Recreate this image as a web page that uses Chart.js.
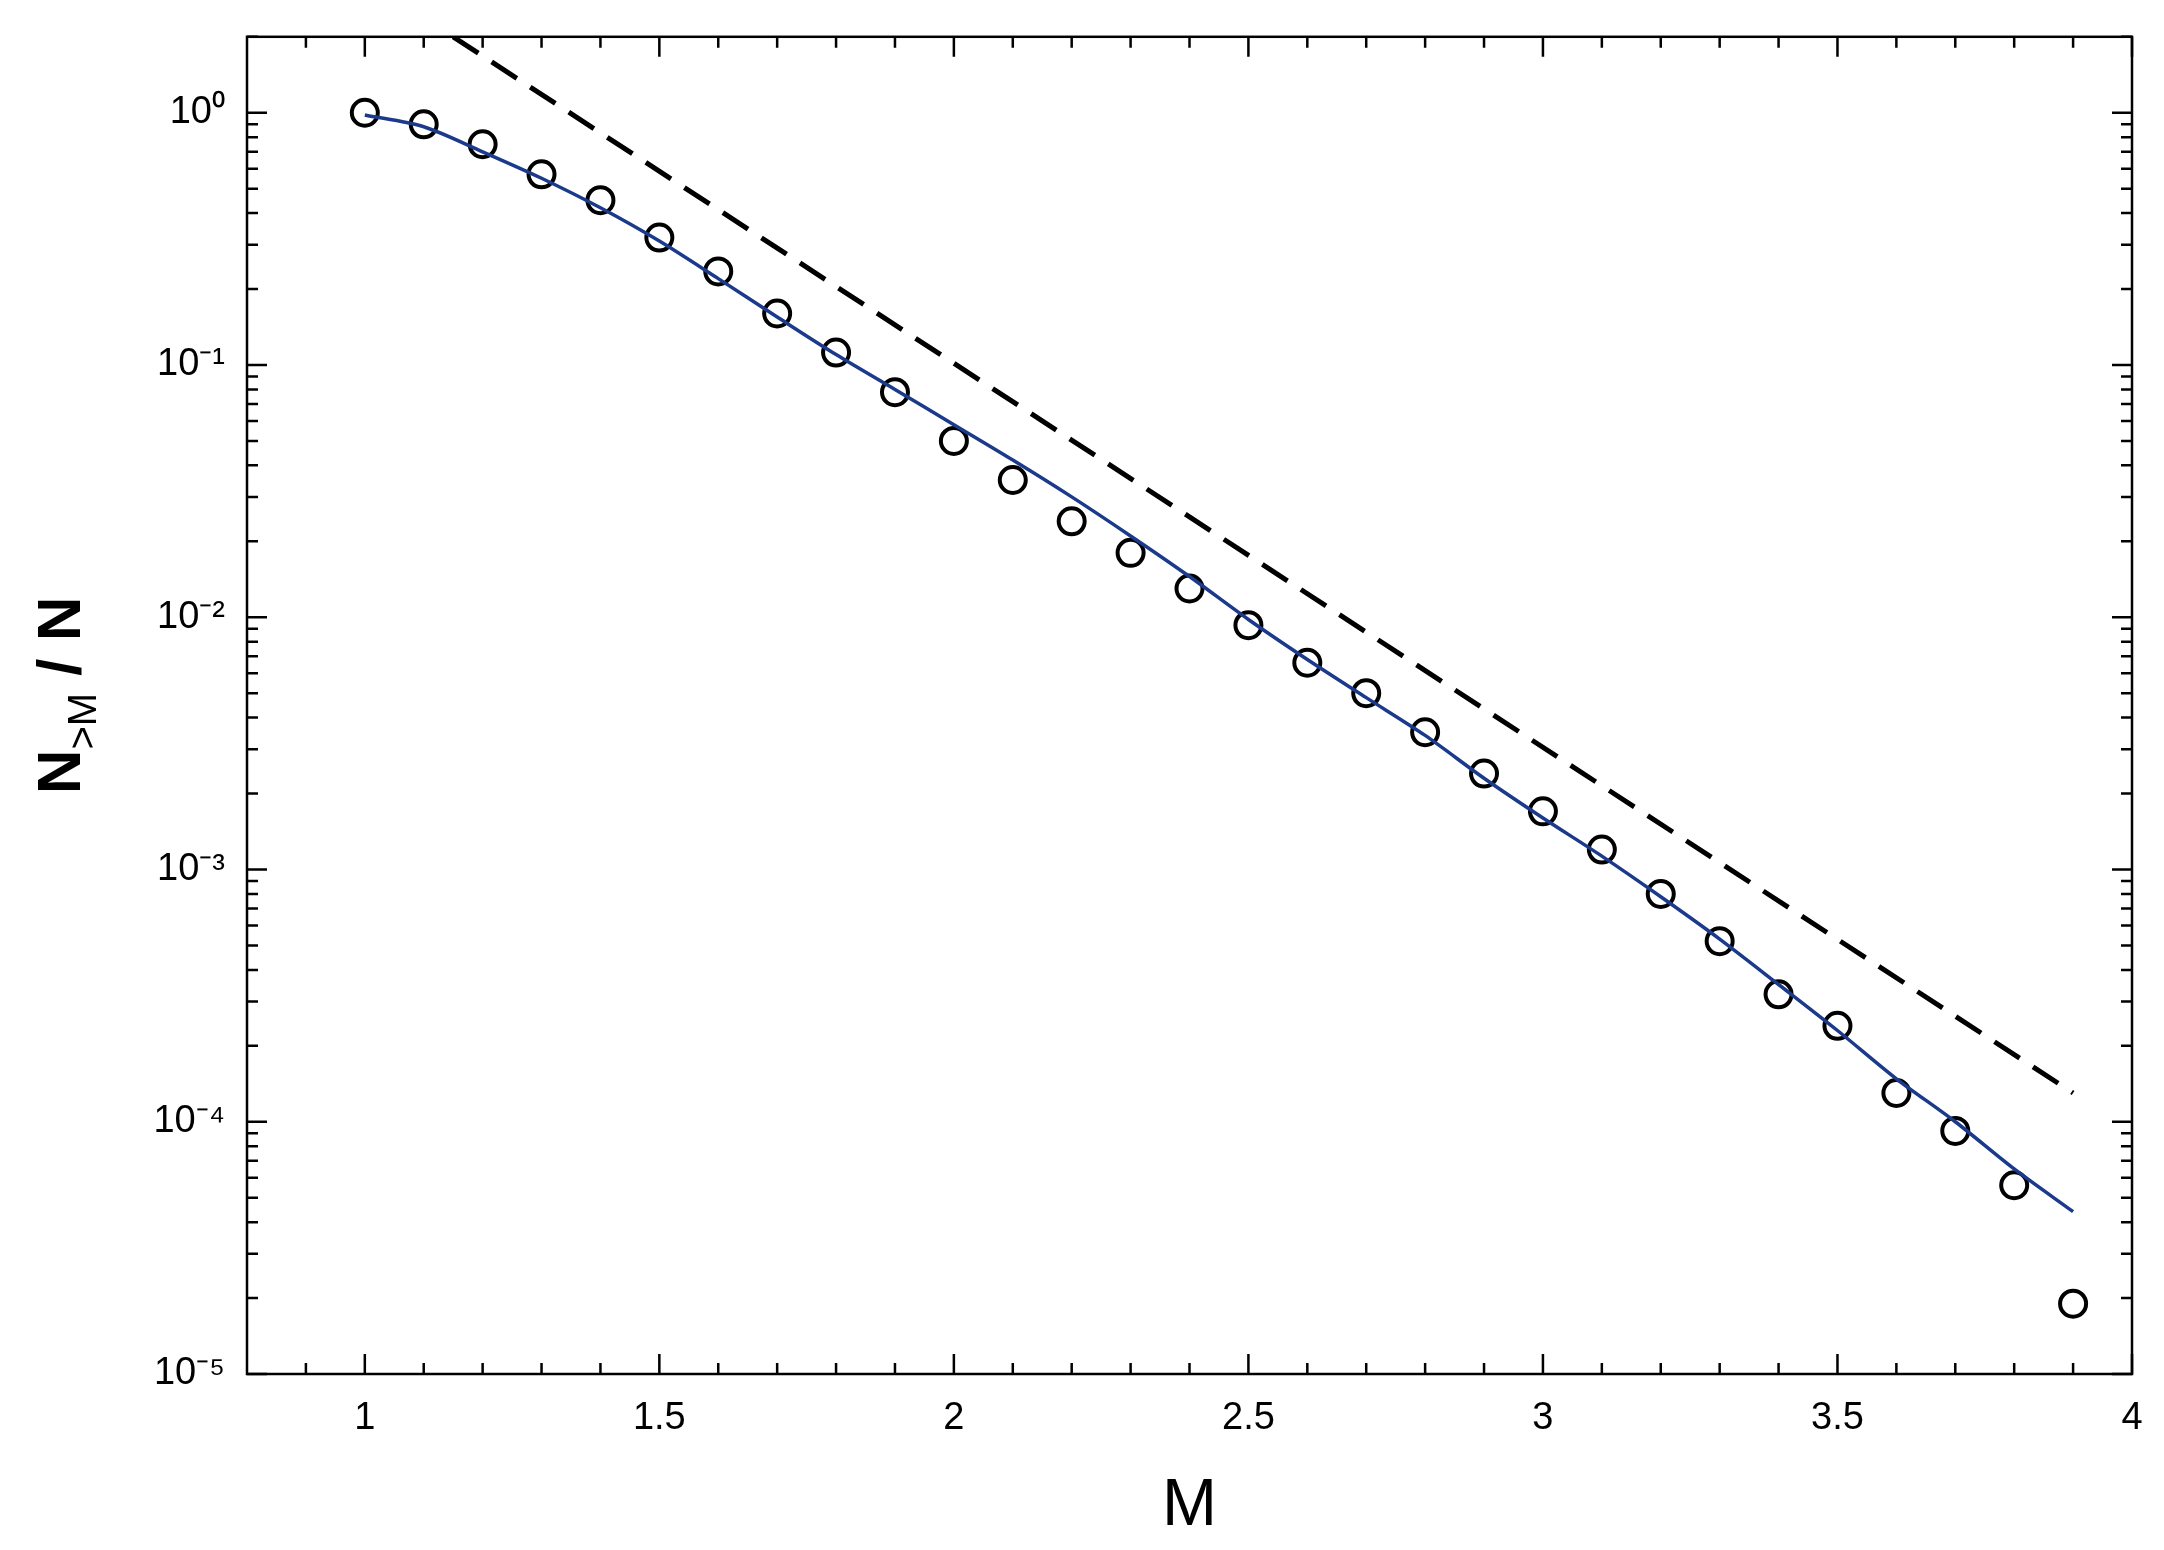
<!DOCTYPE html>
<html><head><meta charset="utf-8">
<script src="https://cdn.jsdelivr.net/npm/chart.js@4/dist/chart.umd.min.js"></script>
<style>html,body{margin:0;background:#fff}#wrap{width:2164px;height:1550px}</style>
</head><body><div id="wrap"><canvas id="c"></canvas></div>
<script>
/* ===== Data ===== */
const obsM   = [1.0,1.1,1.2,1.3,1.4,1.5,1.6,1.7,1.8,1.9,2.0,2.1,2.2,2.3,2.4,2.5,2.6,2.7,2.8,2.9,3.0,3.1,3.2,3.3,3.4,3.5,3.6,3.7,3.8,3.9];
const obsN   = [1.0,0.9,0.75,0.57,0.45,0.32,0.235,0.16,0.112,0.078,0.05,0.035,0.024,0.018,0.013,0.0093,0.0066,0.005,0.0035,0.0024,0.0017,0.0012,0.0008,0.00052,0.00032,0.00024,0.00013,0.000092,0.000056,0.000019];
const fitN   = [0.98,0.88,0.7,0.55,0.42,0.31,0.22,0.155,0.11,0.08,0.058,0.042,0.03,0.021,0.0145,0.0098,0.0068,0.0048,0.0034,0.0023,0.0016,0.00113,0.00078,0.00053,0.00035,0.00023,0.000148,0.0001,0.000065,0.000044];
const dashM  = [1.15,3.9];
const dashN  = [2.0,0.00013];
const xTicks = [1,1.5,2,2.5,3,3.5,4];
const supers = {'0':'⁰','1':'¹','2':'²','3':'³','4':'⁴','5':'⁵','-':'⁻'};
const yDecades = [1,0.1,0.01,0.001,0.0001,0.00001];

const pts = (xs, ys) => xs.map((x,i)=>({x, y:ys[i]}));
const FONT = 'Arial, "Liberation Sans", sans-serif';

/* ===== Inward ticks on all four sides + y title ===== */
const frame = {
  id:'frame',
  afterDraw(ch){
    const {ctx, chartArea:a, scales:{x, y}} = ch;
    ctx.save();
    ctx.strokeStyle='#000'; ctx.lineWidth=2.5;
    ctx.strokeRect(a.left, a.top, a.right-a.left, a.bottom-a.top);
    ctx.beginPath();
    for(let i=9;i<=40;i++){
      const v=i/10, px=x.getPixelForValue(v), L=(i%5===0)?20:11;
      ctx.moveTo(px,a.bottom); ctx.lineTo(px,a.bottom-L);
      ctx.moveTo(px,a.top); ctx.lineTo(px,a.top+L);
    }
    for(let e=-5;e<=0;e++){
      for(let k=1;k<=9;k++){
        const v=k*Math.pow(10,e); if(v>y.max) break;
        const py=y.getPixelForValue(v), L=(k===1)?20:11;
        ctx.moveTo(a.left,py); ctx.lineTo(a.left+L,py);
        ctx.moveTo(a.right,py); ctx.lineTo(a.right-L,py);
      }
    }
    ctx.stroke();
    // y title: N_{>M} / N
    ctx.translate(58,(a.top+a.bottom)/2); ctx.rotate(-Math.PI/2);
    ctx.fillStyle='#000'; ctx.textBaseline='alphabetic';
    const big='bold 62px '+FONT, small='40px '+FONT;
    ctx.font=big; const w1=ctx.measureText('N').width;
    ctx.font=small; const w2=ctx.measureText('>M').width;
    ctx.font=big; const w3=ctx.measureText(' / N').width;
    let s=-(w1+w2+w3)/2+10;
    ctx.font=big; ctx.fillText('N',s,22); s+=w1;
    ctx.font=small; ctx.fillText('>M',s,38); s+=w2;
    ctx.font=big; ctx.fillText(' / N',s,22);
    ctx.restore();
  }
};

new Chart(document.getElementById('c'),{
  type:'scatter',
  data:{ datasets:[
    {label:'dashed', type:'line', data:pts(dashM,dashN), borderColor:'#000', borderWidth:5, borderDash:[30,16], pointRadius:0, fill:false},
    {label:'model', type:'line', data:pts(obsM,fitN), borderColor:'#1c3a8c', borderWidth:3.5, pointRadius:0, tension:0.3, fill:false},
    {label:'data', data:pts(obsM,obsN), pointRadius:13, pointBorderWidth:4, borderColor:'#000', backgroundColor:'rgba(255,255,255,0)', pointStyle:'circle'}
  ]},
  options:{
    responsive:true, maintainAspectRatio:false, animation:false,
    layout:{ padding:{left:0, top:28, right:32, bottom:0} },
    plugins:{ legend:{display:false}, tooltip:{enabled:false} },
    scales:{
      x:{ type:'linear', min:0.8, max:4,
          afterBuildTicks(s){ s.ticks=xTicks.map(v=>({value:v})); },
          afterFit(s){ s.height=176; },
          grid:{display:false}, border:{display:false},
          ticks:{ color:'#000', font:{family:FONT, size:38}, padding:14, maxRotation:0, callback:v=>String(v) },
          title:{ display:true, text:'M', color:'#000', font:{family:FONT, size:66}, padding:{top:0} } },
      y:{ type:'logarithmic', min:0.00001, max:2,
          afterBuildTicks(s){ s.ticks=yDecades.map(v=>({value:v})); },
          afterFit(s){ s.width=247; },
          grid:{display:false}, border:{display:false},
          ticks:{ color:'#000', font:{family:FONT, size:38}, padding:14,
            callback:v=>'10'+String(Math.round(Math.log10(v))).split('').map(c=>supers[c]).join('') } }
    }
  },
  plugins:[frame]
});
</script></body></html>
